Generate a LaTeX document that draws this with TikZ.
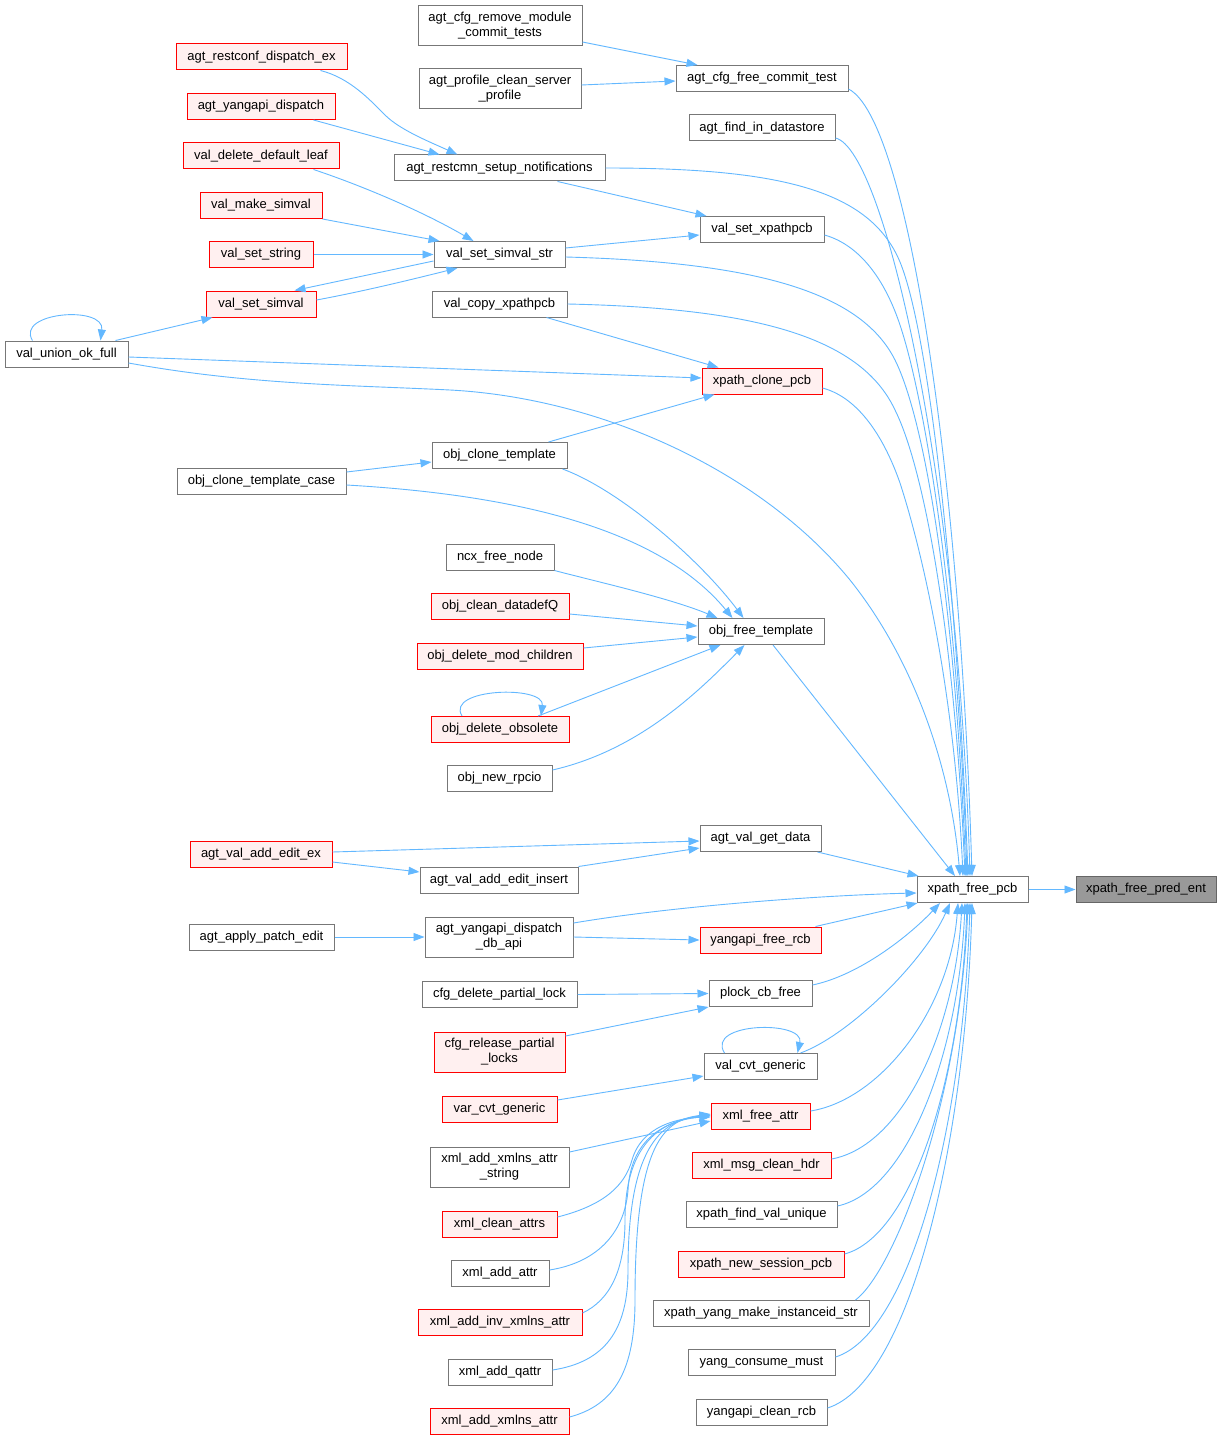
\documentclass[tikz,border=0pt]{standalone}
\usepackage{fontspec}
\setmainfont{Liberation Sans}
\usetikzlibrary{arrows.meta}
\definecolor{edgec}{HTML}{63B8FF}
\definecolor{boxline}{HTML}{777777}
\definecolor{redline}{HTML}{FF0000}
\definecolor{redfill}{HTML}{FFF0F0}
\definecolor{rootfill}{HTML}{999999}
\definecolor{rootline}{HTML}{666666}
\tikzset{
 fn/.style={draw=boxline, line width=1pt, fill=white, inner sep=0pt, minimum height=26pt, align=center, font=\fontsize{13}{15}\selectfont},
 hot/.style={fn, draw=redline, fill=redfill},
 rootfn/.style={fn, draw=rootline, fill=rootfill},
 two/.style={minimum height=40pt},
 call/.style={draw=edgec, line width=0.9pt, -{Triangle[length=11pt,width=8pt]}},
}
\begin{document}
\begin{tikzpicture}[x=1pt,y=-1pt]
\fill[white] (0,0) rectangle (1221,1439);
\useasboundingbox (0,0) rectangle (1221,1439);
% nodes
\node[fn, two, minimum width=164pt] (cfgrm) at (500,25.5) {agt\_cfg\_remove\_module\\\_commit\_tests};
\node[fn, two, minimum width=162pt] (profclean) at (500,89) {agt\_profile\_clean\_server\\\_profile};
\node[fn, minimum width=172pt] (cfgfree) at (762,78.5) {agt\_cfg\_free\_commit\_test};
\node[fn, minimum width=146pt] (findds) at (762,128) {agt\_find\_in\_datastore};
\node[hot, minimum width=171pt] (restconf) at (261.5,57) {agt\_restconf\_dispatch\_ex};
\node[hot, minimum width=148pt] (yangapidisp) at (261,106.5) {agt\_yangapi\_dispatch};
\node[fn, minimum width=211pt] (restcmn) at (499.5,168) {agt\_restcmn\_setup\_notifications};
\node[hot, minimum width=156pt] (valdeldef) at (261,156) {val\_delete\_default\_leaf};
\node[hot, minimum width=122pt] (valmake) at (261,205.5) {val\_make\_simval};
\node[hot, minimum width=104pt] (valsetstring) at (261,254.5) {val\_set\_string};
\node[fn, minimum width=131pt] (valsetsimvalstr) at (499.5,254.5) {val\_set\_simval\_str};
\node[fn, minimum width=124pt] (valsetxpathpcb) at (762,229.5) {val\_set\_xpathpcb};
\node[hot, minimum width=110pt] (valsetsimval) at (261,304) {val\_set\_simval};
\node[fn, minimum width=135pt] (valcopy) at (499.5,304) {val\_copy\_xpathpcb};
\node[fn, minimum width=123pt] (valunion) at (66.5,354) {val\_union\_ok\_full};
\node[hot, minimum width=120pt] (xclone) at (762,381) {xpath\_clone\_pcb};
\node[fn, minimum width=135pt] (objclone) at (499.5,455.5) {obj\_clone\_template};
\node[fn, minimum width=169pt] (objclonecase) at (261.5,481.5) {obj\_clone\_template\_case};
\node[fn, minimum width=108pt] (ncxfree) at (500,557) {ncx\_free\_node};
\node[hot, minimum width=138pt] (objclean) at (500,606.5) {obj\_clean\_datadefQ};
\node[hot, minimum width=166pt] (objdelmod) at (500,656) {obj\_delete\_mod\_children};
\node[fn, minimum width=126pt] (objfree) at (761,631.5) {obj\_free\_template};
\node[hot, minimum width=138pt] (objdelobs) at (500,729.5) {obj\_delete\_obsolete};
\node[fn, minimum width=105pt] (objnewrpcio) at (499.5,778.5) {obj\_new\_rpcio};
\node[fn, minimum width=121pt] (agtvalget) at (760.5,838.5) {agt\_val\_get\_data};
\node[hot, minimum width=142pt] (agtvaladdex) at (261,854.5) {agt\_val\_add\_edit\_ex};
\node[fn, minimum width=158pt] (agtvalinsert) at (499,880) {agt\_val\_add\_edit\_insert};
\node[fn, minimum width=111pt] (xfp) at (972.5,889.5) {xpath\_free\_pcb};
\node[rootfn, minimum width=140pt] (xfpe) at (1146,889.5) {xpath\_free\_pred\_ent};
\node[fn, minimum width=145pt] (applypatch) at (261.5,937) {agt\_apply\_patch\_edit};
\node[fn, two, minimum width=148pt] (dispdb) at (499,937) {agt\_yangapi\_dispatch\\\_db\_api};
\node[hot, minimum width=121pt] (yangfreercb) at (760.5,940) {yangapi\_free\_rcb};
\node[fn, minimum width=155pt] (cfgdel) at (499.5,994.5) {cfg\_delete\_partial\_lock};
\node[fn, minimum width=103pt] (plock) at (760.5,993.5) {plock\_cb\_free};
\node[hot, two, minimum width=131pt] (cfgrel) at (499.5,1052) {cfg\_release\_partial\\\_locks};
\node[fn, minimum width=113pt] (valcvt) at (760.5,1066.5) {val\_cvt\_generic};
\node[hot, minimum width=115pt] (varcvt) at (499.5,1109) {var\_cvt\_generic};
\node[hot, minimum width=99pt] (xmlfree) at (760.5,1116) {xml\_free\_attr};
\node[fn, two, minimum width=139pt] (xmlnsstr) at (499.5,1167) {xml\_add\_xmlns\_attr\\\_string};
\node[hot, minimum width=139pt] (xmlmsg) at (761.5,1165) {xml\_msg\_clean\_hdr};
\node[hot, minimum width=115pt] (xmlclean) at (499.5,1224) {xml\_clean\_attrs};
\node[fn, minimum width=151pt] (xfindval) at (761.5,1214.5) {xpath\_find\_val\_unique};
\node[fn, minimum width=98pt] (xmladdattr) at (500,1273) {xml\_add\_attr};
\node[hot, minimum width=166pt] (xnewsess) at (761,1264) {xpath\_new\_session\_pcb};
\node[hot, minimum width=164pt] (xmlinv) at (500,1322.5) {xml\_add\_inv\_xmlns\_attr};
\node[fn, minimum width=216pt] (xyang) at (761,1313.5) {xpath\_yang\_make\_instanceid\_str};
\node[fn, minimum width=104pt] (xmlqattr) at (500,1372) {xml\_add\_qattr};
\node[fn, minimum width=147pt] (yangmust) at (761.5,1362.5) {yang\_consume\_must};
\node[hot, minimum width=139pt] (xmlnsattr) at (499.5,1421) {xml\_add\_xmlns\_attr};
\node[fn, minimum width=131pt] (yangclean) at (761.5,1412) {yangapi\_clean\_rcb};
% edges to root
\draw[call] (xfp.east) -- (xfpe.west);
% edges into xpath_free_pcb from above
\draw[call] ([yshift=-10.5pt]cfgfree.east) .. controls (908,119) and (960,475) .. ([xshift=-0.5pt]xfp.north);
\draw[call] ([yshift=-10pt]findds.east) .. controls (885,150) and (958,480) .. ([xshift=-2.5pt]xfp.north);
\draw[call] (restcmn.east) .. controls (780,168) and (870,190) .. (900,262) .. controls (930,335) and (958,600) .. ([xshift=-4.5pt]xfp.north);
\draw[call] ([yshift=-5.5pt]valsetxpathpcb.east) .. controls (860,245) and (885,280) .. (900,325) .. controls (925,400) and (958,600) .. ([xshift=-5.5pt]xfp.north);
\draw[call] ([yshift=-2.5pt]valsetsimvalstr.east) .. controls (750,262) and (860,290) .. (895,360) .. controls (925,420) and (955,600) .. ([xshift=-6.5pt]xfp.north);
\draw[call] (valcopy.east) .. controls (750,308) and (860,335) .. (895,410) .. controls (925,470) and (955,640) .. ([xshift=-7.5pt]xfp.north);
\draw[call] ([yshift=-7pt]xclone.east) .. controls (860,398) and (885,440) .. (900,483) .. controls (925,560) and (955,700) .. ([xshift=-9.5pt]xfp.north);
\draw[call] ([yshift=-9pt]valunion.east) .. controls (250,385) and (350,385) .. (450,390) .. controls (600,398) and (760,470) .. (850,580) .. controls (910,655) and (950,760) .. ([xshift=-12.5pt]xfp.north);
\draw[call] ([xshift=12pt]objfree.south) -- ([xshift=-17.5pt]xfp.north);
% edges into xpath_free_pcb from the left
\draw[call] ([xshift=-4pt]agtvalget.south east) -- ([xshift=2pt]xfp.north west);
\draw[call] ([yshift=14pt]dispdb.east) .. controls (680,905) and (830,895) .. ([yshift=-3.5pt]xfp.west);
\draw[call] ([xshift=-6pt]yangfreercb.north east) -- ([xshift=1pt]xfp.south west);
% edges into xpath_free_pcb from below
\draw[call] ([yshift=8.5pt]plock.east) .. controls (860,975) and (910,935) .. ([xshift=-32.5pt]xfp.south);
\draw[call] ([xshift=-17pt]valcvt.north east) .. controls (850,1035) and (925,960) .. ([xshift=-22.5pt]xfp.south);
\draw[call] ([yshift=5pt]xmlfree.east) .. controls (880,1100) and (950,1010) .. ([xshift=-14.5pt]xfp.south);
\draw[call] ([yshift=6pt]xmlmsg.east) .. controls (903,1146) and (955,1030) .. ([xshift=-10.5pt]xfp.south);
\draw[call] ([yshift=8.5pt]xfindval.east) .. controls (907,1191) and (959,1054) .. ([xshift=-7.5pt]xfp.south);
\draw[call] ([yshift=10pt]xnewsess.east) .. controls (912,1236) and (961,1078) .. ([xshift=-5.5pt]xfp.south);
\draw[call] ([xshift=-14pt]xyang.north east) .. controls (895,1270) and (960,1100) .. ([xshift=-4.5pt]xfp.south);
\draw[call] ([yshift=5.5pt]yangmust.east) .. controls (909,1334) and (963,1130) .. ([xshift=-2.5pt]xfp.south);
\draw[call] ([yshift=4pt]yangclean.east) .. controls (907,1383) and (965,1155) .. ([xshift=-0.5pt]xfp.south);
% upper left edges
\draw[call] ([yshift=-16.5pt]cfgrm.east) -- ([xshift=22pt]cfgfree.north west);
\draw[call] ([yshift=4pt]profclean.east) -- ([yshift=-2.5pt]cfgfree.west);
\draw[call] ([xshift=-27pt]restconf.south east) .. controls (350,78) and (370,100) .. (385,115) .. controls (400,130) and (430,142) .. ([xshift=64pt]restcmn.north west);
\draw[call] ([xshift=-22pt]yangapidisp.south east) -- ([xshift=46pt]restcmn.north west);
\draw[call] ([xshift=-48pt]restcmn.south east) -- ([xshift=7pt]valsetxpathpcb.north west);
\draw[call] ([yshift=6.5pt]valsetsimvalstr.east) -- ([yshift=-5.5pt]valsetxpathpcb.west);
\draw[call] ([xshift=-26pt]valdeldef.south east) .. controls (360,185) and (420,210) .. ([xshift=40pt]valsetsimvalstr.north west);
\draw[call] (valmake.south east) -- ([xshift=6pt]valsetsimvalstr.north west);
\draw[call] (valsetstring.east) -- (valsetsimvalstr.west);
\draw[call] ([yshift=-6.5pt]valsetsimvalstr.west) -- ([xshift=-22pt]valsetsimval.north east);
\draw[call] ([yshift=4pt]valsetsimval.east) .. controls (360,292) and (410,280) .. ([xshift=24pt]valsetsimvalstr.south west);
\draw[call] ([xshift=-13pt]valunion.north east) -- ([xshift=7pt]valsetsimval.south west);
\draw[call] ([xshift=28pt]valunion.north west) .. controls (15,312) and (105,305) .. ([xshift=-28pt]valunion.north east);
\draw[call] ([yshift=-3pt]valunion.east) -- ([yshift=3pt]xclone.west);
\draw[call] ([xshift=-21pt]valcopy.south east) -- ([xshift=17pt]xclone.north west);
\draw[call] ([xshift=-19pt]objclone.north east) -- ([xshift=13pt]xclone.south west);
\draw[call] ([yshift=9.5pt]objclonecase.east) -- ([yshift=-6.5pt]objclone.west);
% obj_free_template callers
\draw[call] ([xshift=-5pt]objclone.south east) .. controls (620,490) and (700,560) .. ([xshift=46pt]objfree.north west);
\draw[call] ([yshift=-3.5pt]objclonecase.east) .. controls (520,495) and (660,530) .. ([xshift=35pt]objfree.north west);
\draw[call] (ncxfree.south east) .. controls (590,580) and (670,598) .. ([xshift=20pt]objfree.north west);
\draw[call] ([yshift=-7.5pt]objclean.east) -- ([yshift=5.5pt]objfree.west);
\draw[call] ([yshift=8pt]objdelmod.east) -- ([yshift=-5.5pt]objfree.west);
\draw[call] ([xshift=38pt]objdelobs.north) -- ([xshift=23pt]objfree.south west);
\draw[call] ([xshift=-38pt]objdelobs.north) .. controls (445,688) and (545,685) .. ([xshift=41pt]objdelobs.north);
\draw[call] ([yshift=8.5pt]objnewrpcio.east) .. controls (640,750) and (700,690) .. ([xshift=47pt]objfree.south west);
% agt_val
\draw[call] ([yshift=2.5pt]agtvaladdex.east) -- ([yshift=-2.5pt]agtvalget.west);
\draw[call] ([yshift=-7.5pt]agtvaladdex.east) -- ([yshift=8pt]agtvalinsert.west);
\draw[call] (agtvalinsert.north east) -- ([yshift=-9.5pt]agtvalget.west);
\draw[call] (applypatch.east) -- (dispdb.west);
\draw[call] (dispdb.east) -- (yangfreercb.west);
\draw[call] (cfgdel.east) -- (plock.west);
\draw[call] ([yshift=16pt]cfgrel.east) -- (plock.south west);
\draw[call] ([xshift=21pt]valcvt.north west) .. controls (705,1022) and (805,1020) .. ([xshift=-20pt]valcvt.north east);
\draw[call] ([yshift=9pt]varcvt.east) -- ([yshift=-9.5pt]valcvt.west);
% xml_free_attr callers
\draw[call] ([yshift=15pt]xmlnsstr.east) -- ([yshift=-5pt]xmlfree.west);
\draw[call] ([yshift=7pt]xmlclean.east) .. controls (605,1205) and (625,1185) .. (632,1160) .. controls (642,1125) and (680,1118) .. ([yshift=-1pt]xmlfree.west);
\draw[call] ([yshift=3pt]xmladdattr.east) .. controls (600,1262) and (625,1230) .. (628,1190) .. controls (631,1135) and (670,1120) .. (xmlfree.west);
\draw[call] ([yshift=9.5pt]xmlinv.east) .. controls (610,1300) and (625,1270) .. (625,1220) .. controls (625,1140) and (665,1120) .. ([yshift=1pt]xmlfree.west);
\draw[call] ([yshift=2pt]xmlqattr.east) .. controls (605,1362) and (628,1330) .. (628,1270) .. controls (628,1140) and (665,1120) .. ([yshift=1pt]xmlfree.west);
\draw[call] ([yshift=4pt]xmlnsattr.east) .. controls (615,1405) and (635,1370) .. (635,1300) .. controls (635,1140) and (665,1120) .. ([yshift=2pt]xmlfree.west);
\end{tikzpicture}
\end{document}
